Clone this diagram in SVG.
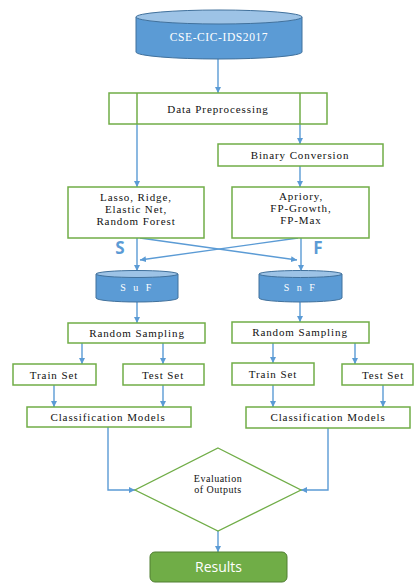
<svg xmlns="http://www.w3.org/2000/svg" width="414" height="583" viewBox="0 0 414 583">
<style>
.box{fill:#fff;stroke:#70AD47;stroke-width:1.5}
.cyl{fill:#5B9BD5;stroke:#41719C;stroke-width:1}
.cyltop{fill:#9DC3E6;stroke:#41719C;stroke-width:1}
.t{font-family:"Liberation Serif","Times New Roman",serif;font-size:11px;fill:#111;text-anchor:middle;letter-spacing:0.9px}
.ts{font-family:"Liberation Serif","Times New Roman",serif;font-size:10px;fill:#111;text-anchor:middle;letter-spacing:0.5px}
.tw{font-family:"Liberation Serif","Times New Roman",serif;fill:#fff;text-anchor:middle}
.c{stroke:#5B9BD5;stroke-width:1.4;fill:none}
.lbl{font-family:"Open Sans","Liberation Sans",sans-serif;font-weight:bold;font-size:17px;fill:#5B9BD5;text-anchor:middle}
</style>
<defs>
<marker id="ah" viewBox="0 0 10 10" refX="10" refY="5" markerWidth="6" markerHeight="6" markerUnits="userSpaceOnUse" orient="auto">
<path d="M0,0 L10,5 L0,10 z" fill="#5B9BD5"/>
</marker>
</defs>
<rect width="414" height="583" fill="#fff"/>

<g id="connectors">
<line class="c" x1="218" y1="59" x2="218" y2="93" marker-end="url(#ah)"/>
<line class="c" x1="137" y1="124" x2="137" y2="187" marker-end="url(#ah)"/>
<line class="c" x1="300" y1="124" x2="300" y2="144" marker-end="url(#ah)"/>
<line class="c" x1="300" y1="166" x2="300" y2="187" marker-end="url(#ah)"/>
<line class="c" x1="137" y1="238" x2="137" y2="271" marker-end="url(#ah)"/>
<line class="c" x1="301" y1="238" x2="301" y2="271" marker-end="url(#ah)"/>
<line class="c" x1="140" y1="238" x2="297" y2="260" marker-end="url(#ah)"/>
<line class="c" x1="298" y1="238" x2="140" y2="260" marker-end="url(#ah)"/>
<line class="c" x1="137" y1="302" x2="137" y2="323" marker-end="url(#ah)"/>
<line class="c" x1="300" y1="302" x2="300" y2="322" marker-end="url(#ah)"/>
<line class="c" x1="82" y1="343" x2="82" y2="364" marker-end="url(#ah)"/>
<line class="c" x1="163" y1="343" x2="163" y2="364" marker-end="url(#ah)"/>
<line class="c" x1="273" y1="343" x2="273" y2="363" marker-end="url(#ah)"/>
<line class="c" x1="355" y1="343" x2="355" y2="364" marker-end="url(#ah)"/>
<line class="c" x1="54" y1="385" x2="54" y2="407" marker-end="url(#ah)"/>
<line class="c" x1="163" y1="385" x2="163" y2="407" marker-end="url(#ah)"/>
<line class="c" x1="273" y1="385" x2="273" y2="407" marker-end="url(#ah)"/>
<line class="c" x1="383" y1="385" x2="383" y2="407" marker-end="url(#ah)"/>
<polyline class="c" points="108,427 108,490 135,490" marker-end="url(#ah)"/>
<polyline class="c" points="328,428 328,490 301,490" marker-end="url(#ah)"/>
<line class="c" x1="218" y1="531" x2="218" y2="552" marker-end="url(#ah)"/>
</g>

<g id="dataset">
<path class="cyl" d="M136,17 L136,52 A83,7 0 0 0 302,52 L302,17 Z"/>
<ellipse class="cyltop" cx="219" cy="17" rx="83" ry="7"/>
<text class="tw" x="219" y="41" font-size="11.5" letter-spacing="0.6">CSE-CIC-IDS2017</text>
</g>

<g id="preprocessing">
<rect class="box" x="109" y="93" width="218" height="31"/>
<line x1="137" y1="93" x2="137" y2="124" stroke="#70AD47" stroke-width="1.5"/>
<line x1="300" y1="93" x2="300" y2="124" stroke="#70AD47" stroke-width="1.5"/>
<text class="t" x="218" y="113">Data Preprocessing</text>
</g>

<g id="binary">
<rect class="box" x="218" y="144" width="165" height="22"/>
<text class="t" x="300" y="159">Binary Conversion</text>
</g>

<g id="selection">
<rect class="box" x="68" y="187" width="136" height="51"/>
<text class="t" x="136" y="201">Lasso, Ridge,</text>
<text class="t" x="136" y="213">Elastic Net,</text>
<text class="t" x="136" y="225">Random Forest</text>
</g>

<g id="mining">
<rect class="box" x="232" y="187" width="137" height="51"/>
<text class="t" x="301" y="200">Apriory,</text>
<text class="t" x="301" y="212">FP-Growth,</text>
<text class="t" x="301" y="224">FP-Max</text>
</g>

<text class="lbl" x="120" y="254">S</text>
<text class="lbl" x="318" y="254">F</text>

<g id="suf">
<path class="cyl" d="M96,274 L96,298 A41,4 0 0 0 178,298 L178,274 Z"/>
<ellipse class="cyltop" cx="137" cy="274" rx="41" ry="3.5"/>
<text class="tw" x="137" y="291" font-size="10" letter-spacing="2.5">S u F</text>
</g>

<g id="snf">
<path class="cyl" d="M259,274 L259,298 A41.5,4 0 0 0 342,298 L342,274 Z"/>
<ellipse class="cyltop" cx="300.5" cy="274" rx="41.5" ry="3.5"/>
<text class="tw" x="300.5" y="291" font-size="10" letter-spacing="2.5">S n F</text>
</g>

<g id="sampling-left">
<rect class="box" x="68" y="323" width="137" height="20"/>
<text class="t" x="137" y="337">Random Sampling</text>
</g>
<g id="sampling-right">
<rect class="box" x="232" y="322" width="137" height="21"/>
<text class="t" x="300" y="336">Random Sampling</text>
</g>

<g id="train-left">
<rect class="box" x="13" y="364" width="83" height="21"/>
<text class="t" x="54" y="379">Train Set</text>
</g>
<g id="test-left">
<rect class="box" x="123" y="364" width="81" height="21"/>
<text class="t" x="163" y="379">Test Set</text>
</g>
<g id="train-right">
<rect class="box" x="232" y="363" width="82" height="22"/>
<text class="t" x="273" y="378">Train Set</text>
</g>
<g id="test-right">
<rect class="box" x="342" y="364" width="71" height="21"/>
<text class="t" x="383" y="379">Test Set</text>
</g>

<g id="models-left">
<rect class="box" x="27" y="407" width="164" height="20"/>
<text class="t" x="108" y="421">Classification Models</text>
</g>
<g id="models-right">
<rect class="box" x="246" y="407" width="164" height="21"/>
<text class="t" x="328" y="421">Classification Models</text>
</g>

<g id="evaluation">
<polygon points="218,448 301,490 218,531 135,490" fill="#fff" stroke="#70AD47" stroke-width="1.3"/>
<text class="ts" x="218" y="482">Evaluation</text>
<text class="ts" x="218" y="493">of Outputs</text>
</g>

<g id="results">
<rect x="150" y="552" width="137" height="30" rx="5" fill="#70AD47" stroke="#507E32" stroke-width="1"/>
<text x="218.5" y="572" font-family="'Open Sans','Liberation Sans',sans-serif" font-size="14" fill="#fff" text-anchor="middle">Results</text>
</g>
</svg>
